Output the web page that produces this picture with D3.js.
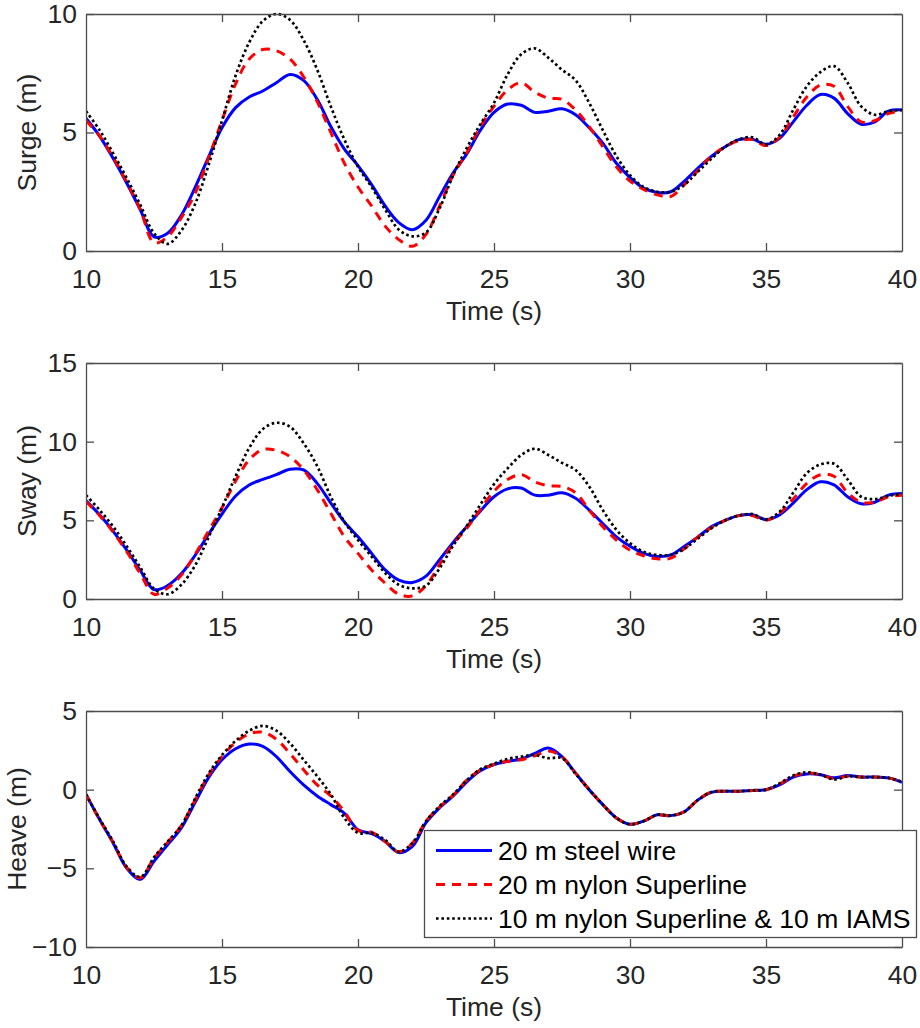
<!DOCTYPE html>
<html>
<head>
<meta charset="utf-8">
<script src="https://d3js.org/d3.v7.min.js"></script>
<style>
    body { margin: 0; background: #fff; }
    svg text { font-family: "Liberation Sans", Arial, sans-serif; fill: #262626; }
</style>
</head>
<body>
<div id="figure"></div>
<script>
// time grid of the samples (s)
let timeVals = d3.range(10, 40.001, 0.5);

// surge (m)
let surgeSteel = [5.6, 4.85, 3.9, 2.86, 1.73, 0.6, 0.75, 1.5, 2.65, 3.95, 5.2, 6.05, 6.5, 6.75, 7.1, 7.45, 7.2, 6.4, 5.25, 4.3,
    3.6, 2.8, 1.9, 1.2, 0.9, 1.3, 2.3, 3.3, 4.1, 5.1, 5.85, 6.2, 6.15, 5.85, 5.9, 6.0, 5.75, 5.2, 4.55, 3.7,
    3.1, 2.65, 2.47, 2.5, 2.95, 3.5, 4.0, 4.4, 4.7, 4.72, 4.5, 4.75, 5.45, 6.15, 6.6, 6.45, 5.8, 5.35, 5.45, 5.9, 5.95];
let surgeNylon = [5.5, 4.85, 3.95, 2.9, 1.75, 0.35, 0.6, 1.4, 2.4, 3.9, 5.5, 7.05, 8.1, 8.5, 8.45, 8.1, 7.35, 6.3, 5.0, 3.7,
    2.7, 1.9, 1.05, 0.48, 0.2, 0.7, 1.9, 3.2, 4.15, 5.25, 6.1, 6.8, 7.1, 6.7, 6.45, 6.4, 5.95, 5.25, 4.4, 3.55,
    2.95, 2.6, 2.37, 2.3, 2.8, 3.4, 4.0, 4.4, 4.65, 4.7, 4.45, 4.8, 5.65, 6.5, 7.0, 6.95, 6.1, 5.45, 5.5, 5.8, 5.9];
let surgeIams = [5.9, 5.1, 4.12, 3.07, 1.94, 0.75, 0.3, 0.85, 1.95, 3.6, 5.5, 7.4, 8.8, 9.7, 10.0, 9.75, 8.9, 7.65, 6.1, 4.7,
    3.55, 2.7, 1.75, 0.9, 0.62, 0.78, 1.8, 3.2, 4.35, 5.35, 6.25, 7.45, 8.3, 8.55, 8.15, 7.65, 7.2, 6.25, 5.1, 4.0,
    3.2, 2.7, 2.5, 2.5, 2.8, 3.35, 3.9, 4.4, 4.7, 4.8, 4.5, 4.9, 5.95, 6.95, 7.55, 7.8, 7.1, 6.1, 5.75, 5.9, 5.95];

// sway (m)
let swaySteel = [6.25, 5.35, 4.3, 3.1, 1.8, 0.6, 0.85, 1.6, 2.75, 4.1, 5.4, 6.55, 7.25, 7.6, 7.9, 8.25, 8.2, 7.35, 6.1, 4.9,
    3.95, 2.9, 1.85, 1.2, 1.05, 1.45, 2.5, 3.6, 4.6, 5.6, 6.5, 7.0, 7.05, 6.6, 6.6, 6.75, 6.4, 5.65, 4.8, 3.95,
    3.35, 2.9, 2.7, 2.8, 3.35, 3.95, 4.6, 5.0, 5.3, 5.35, 5.05, 5.35, 6.1, 6.95, 7.45, 7.25, 6.5, 6.05, 6.15, 6.6, 6.7];
let swayNylon = [6.2, 5.3, 4.25, 3.0, 1.6, 0.3, 0.7, 1.5, 2.8, 4.3, 5.8, 7.5, 8.85, 9.5, 9.45, 9.05, 8.2, 6.95, 5.45, 3.95,
    2.9, 1.85, 1.0, 0.3, 0.2, 0.85, 2.2, 3.5, 4.5, 5.7, 6.85, 7.6, 7.9, 7.45, 7.2, 7.15, 6.75, 5.65, 4.6, 3.75,
    3.1, 2.75, 2.55, 2.6, 3.2, 3.95, 4.55, 5.0, 5.3, 5.3, 5.0, 5.45, 6.35, 7.35, 7.9, 7.8, 6.75, 6.15, 6.15, 6.5, 6.6];
let swayIams = [6.6, 5.65, 4.6, 3.35, 2.0, 0.65, 0.3, 0.9, 2.1, 3.9, 5.8, 7.8, 9.6, 10.8, 11.2, 10.95, 9.9, 8.45, 6.5, 4.9,
    3.75, 2.7, 1.65, 0.9, 0.68, 0.85, 1.95, 3.4, 4.65, 6.0, 7.3, 8.3, 9.15, 9.55, 9.15, 8.65, 8.2, 7.15, 5.65, 4.4,
    3.55, 3.0, 2.8, 2.8, 3.2, 3.85, 4.5, 5.0, 5.3, 5.4, 5.05, 5.55, 6.75, 8.0, 8.55, 8.6, 7.6, 6.5, 6.35, 6.55, 6.7];

// heave (m)
let heaveSteel = [-0.3, -1.9, -3.4, -5.0, -5.7, -4.55, -3.5, -2.45, -0.85, 0.75, 1.9, 2.6, 2.9, 2.75, 2.1, 1.15, 0.3, -0.4, -0.95, -1.5,
    -2.55, -2.8, -3.3, -4.0, -3.6, -2.1, -1.15, -0.4, 0.5, 1.2, 1.6, 1.8, 1.95, 2.3, 2.65, 2.1, 1.05, 0.0, -0.95, -1.8,
    -2.2, -2.0, -1.6, -1.65, -1.4, -0.65, -0.17, -0.1, -0.1, -0.05, 0.0, 0.3, 0.8, 1.0, 0.95, 0.75, 0.9, 0.8, 0.8, 0.75, 0.47];
let heaveNylon = [-0.3, -1.9, -3.35, -4.95, -5.6, -4.35, -3.35, -2.3, -0.7, 0.9, 2.1, 3.0, 3.55, 3.65, 3.2, 2.3, 1.27, 0.3, -0.4, -1.4,
    -2.6, -2.7, -3.3, -3.95, -3.4, -2.0, -1.1, -0.35, 0.6, 1.25, 1.6, 1.8, 1.9, 2.15, 2.45, 2.1, 1.05, 0.0, -0.95, -1.8,
    -2.2, -2.0, -1.6, -1.65, -1.4, -0.65, -0.15, -0.1, -0.1, -0.05, 0.0, 0.35, 0.85, 1.05, 0.95, 0.7, 0.85, 0.8, 0.8, 0.75, 0.5];
let heaveIams = [-0.3, -1.85, -3.3, -4.9, -5.55, -4.3, -3.3, -2.3, -0.6, 1.0, 2.2, 3.1, 3.75, 4.05, 3.75, 2.95, 1.9, 0.85, -0.3, -1.8,
    -2.75, -2.75, -3.2, -3.95, -3.4, -2.0, -1.05, -0.3, 0.6, 1.3, 1.65, 1.95, 2.1, 2.2, 2.0, 2.0, 1.0, 0.0, -0.95, -1.8,
    -2.2, -2.0, -1.6, -1.65, -1.4, -0.65, -0.15, -0.1, -0.1, -0.05, 0.0, 0.4, 0.9, 1.1, 0.95, 0.65, 0.85, 0.8, 0.8, 0.75, 0.5];

let xTicks = [10, 15, 20, 25, 30, 35, 40];
let surgeTicks = [0, 5, 10];
let swayTicks = [0, 5, 10, 15];
let heaveTicks = [-10, -5, 0, 5];

let seriesNames = ["20 m steel wire", "20 m nylon Superline", "10 m nylon Superline & 10 m IAMS"];
let seriesColors = ["#0000ff", "#ff0000", "#000000"];
let seriesDash = [null, "9,7", "2.6,2.8"];
let seriesWidth = [3, 3, 2.7];

let W = 920, H = 1028;
let left = 86, right = 902;
let fontSize = 26.5;

let svg = d3.select("#figure").append("svg")
    .attr("width", W)
    .attr("height", H);

function drawPanel(top, bottom, yDomain, yTicks, yName, labelX, series) {
    let x = d3.scaleLinear().domain([10, 40]).range([left, right]);
    let y = d3.scaleLinear().domain(yDomain).range([bottom, top]);
    let g = svg.append("g");

    // clip for the curves
    let clipId = "clip" + top;
    g.append("clipPath").attr("id", clipId)
        .append("rect")
        .attr("x", left).attr("y", top - 2)
        .attr("width", right - left).attr("height", bottom - top + 4);

    let line = d3.line()
        .x(function (d) { return x(d[0]); })
        .y(function (d) { return y(d[1]); })
        .curve(d3.curveCatmullRom.alpha(0.5));

    // same drawing order as the legend: steel, nylon, iams
    for (let i = 0; i < series.length; ++i) {
        let pts = timeVals.map(function (t, j) { return [t, series[i][j]]; });
        g.append("path")
            .attr("clip-path", "url(#" + clipId + ")")
            .attr("d", line(pts))
            .attr("fill", "none")
            .attr("stroke", seriesColors[i])
            .attr("stroke-width", seriesWidth[i])
            .attr("stroke-dasharray", seriesDash[i]);
    }

    // axes, ticks pointing inward like matlab
    let axB = g.append("g")
        .attr("transform", "translate(0," + bottom + ")")
        .call(d3.axisBottom(x).tickValues(xTicks).tickSizeInner(-8).tickSizeOuter(0).tickPadding(18));
    let axT = g.append("g")
        .attr("transform", "translate(0," + top + ")")
        .call(d3.axisTop(x).tickValues(xTicks).tickSizeInner(-8).tickSizeOuter(0).tickFormat(""));
    let axL = g.append("g")
        .attr("transform", "translate(" + left + ",0)")
        .call(d3.axisLeft(y).tickValues(yTicks).tickSizeInner(-8).tickSizeOuter(0).tickPadding(9));
    let axR = g.append("g")
        .attr("transform", "translate(" + right + ",0)")
        .call(d3.axisRight(y).tickValues(yTicks).tickSizeInner(-8).tickSizeOuter(0).tickFormat(""));

    [axB, axT, axL, axR].forEach(function (a) {
        a.selectAll("path.domain").attr("stroke", "#4d4d4d").attr("stroke-width", 1.3);
        a.selectAll(".tick line").attr("stroke", "#4d4d4d").attr("stroke-width", 1.3);
        a.selectAll(".tick text")
            .style("font-family", "'Liberation Sans', Arial, sans-serif")
            .style("font-size", fontSize + "px")
            .attr("fill", "#262626");
        a.attr("font-size", null);
    });
    axB.selectAll(".tick").filter(function (d) { return d === 10 || d === 40; }).select("line").remove();
    axT.selectAll(".tick").filter(function (d) { return d === 10 || d === 40; }).select("line").remove();

    // x label
    g.append("text")
        .attr("x", (left + right) / 2)
        .attr("y", bottom + 69)
        .style("text-anchor", "middle")
        .style("font-size", fontSize + "px")
        .text("Time (s)");

    // y label
    g.append("text")
        .attr("transform", "translate(" + labelX + "," + ((top + bottom) / 2) + ") rotate(-90)")
        .style("text-anchor", "middle")
        .style("font-size", fontSize + "px")
        .text(yName);
}

drawPanel(14, 251, [0, 10], surgeTicks, "Surge (m)", 36, [surgeSteel, surgeNylon, surgeIams]);
drawPanel(363, 599, [0, 15], swayTicks, "Sway (m)", 36, [swaySteel, swayNylon, swayIams]);
drawPanel(711, 947, [-10, 5], heaveTicks, "Heave (m)", 26, [heaveSteel, heaveNylon, heaveIams]);

// legend in the heave panel
let legend = svg.append("g");
legend.append("rect")
    .attr("x", 424.5).attr("y", 830.5)
    .attr("width", 492).attr("height", 107)
    .attr("fill", "#fff")
    .attr("stroke", "#4d4d4d")
    .attr("stroke-width", 1.3);
for (let i = 0; i < seriesNames.length; ++i) {
    let base = 860 + i * 34;
    legend.append("line")
        .attr("x1", 436).attr("x2", 492)
        .attr("y1", base - 9.5).attr("y2", base - 9.5)
        .attr("stroke", seriesColors[i])
        .attr("stroke-width", seriesWidth[i])
        .attr("stroke-dasharray", seriesDash[i]);
    legend.append("text")
        .attr("x", 498)
        .attr("y", base)
        .style("font-size", fontSize + "px")
        .style("fill", "#000")
        .text(seriesNames[i]);
}
</script>
</body>
</html>
